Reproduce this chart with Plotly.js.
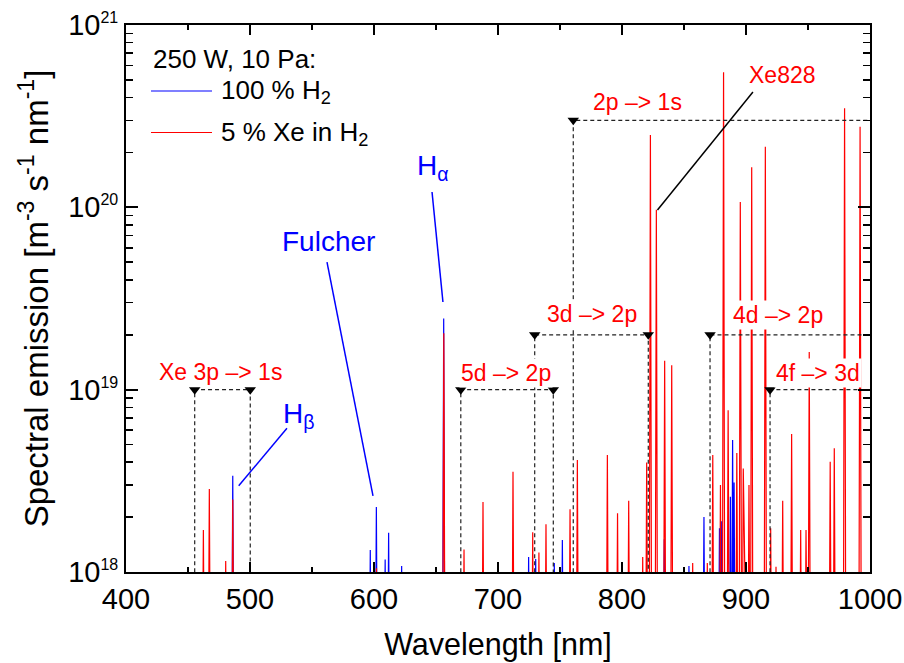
<!DOCTYPE html>
<html><head><meta charset="utf-8">
<script src="https://cdn.plot.ly/plotly-3.0.1.min.js"></script>
<style>html,body{margin:0;padding:0;background:#fff}#chart{width:904px;height:663px}</style>
</head><body><div id="chart"></div>
<script>
// ---- data (peak wavelength [nm], peak emission [m^-3 s^-1 nm^-1]) ----
const h2Wavelength = [486.1, 597.0, 601.9, 609.0, 611.8, 622.3, 656.2, 724.7, 730.4, 745.4, 751.9,
  834.1, 854.0, 866.1, 878.6, 880.4, 887.4, 889.2, 890.4];
const h2Peak = [3.37e18, 1.32e18, 2.27e18, 1.17e18, 1.64e18, 1.08e18, 2.46e19, 1.21e18, 1.18e18, 1.12e18, 1.5e18,
  1.51e18, 1.08e18, 2.0e18, 1.74e18, 1.9e18, 2.59e18, 5.3e18, 3.1e18];

const xeWavelength = [462.4, 467.2, 480.4, 486.1, 602.0, 656.3, 672.6, 687.9, 712.1, 728.0, 733.0, 738.7,
  758.1, 764.0, 788.2, 796.4, 805.4, 816.7, 819.9, 822.9, 827.7, 834.4, 840.1, 857.0, 868.8, 873.2,
  879.4, 881.9, 885.6, 892.6, 895.4, 897.8, 902.4, 904.6, 915.6, 919.9, 924.2, 929.6, 936.8, 944.1,
  948.4, 951.0, 967.9, 971.2, 979.5, 992.0];
const xePeak = [1.7e18, 2.85e18, 1.15e18, 2.5e18, 1.05e18, 2.04e19, 1.33e18, 2.42e18, 3.55e18, 1.65e18, 1.28e18, 1.83e18,
  2.21e18, 4.11e18, 4.38e18, 2.1e18, 2.46e18, 1.21e18, 3.98e18, 2.49e20, 9.7e19, 1.44e19, 1.36e19, 1.12e18, 1.12e18, 4.38e18,
  3.0e18, 5.5e20, 7.7e18, 4.5e18, 1.07e20, 3.7e18, 3.0e18, 1.66e20, 2.15e20, 1.74e18, 1.07e18, 2.46e18, 5.71e18, 1.7e18,
  1.7e18, 1.61e19, 4.03e18, 4.77e18, 3.49e20, 2.77e20];

// transition groups (dashed brackets)
const groupLabels = ['Xe 3p –> 1s', '5d –> 2p', '3d –> 2p', '2p –> 1s', '4d –> 2p', '4f –> 3d'];
const groupStart = [455.4, 670.0, 729.6, 760.7, 871.0, 919.4];
const groupEnd   = [500.2, 744.6, 821.2, 1000, 1000, 1000];
const groupClosed = [true, true, true, false, false, false];
const groupLevel = [1e19, 1e19, 2e19, 3e20, 2e19, 1e19];

const seriesNames = ['100 % H<sub>2</sub>', '5 % Xe in H<sub>2</sub>'];
const seriesColors = ['#0000ff', '#ff0000'];
const legendTitle = '250 W, 10 Pa:';

// ---- build traces ----
const FLOOR = 1e17, HALF = 1.1;
function spikes(wl, pk) {
  const idx = wl.map((w, i) => i).sort((a, b) => wl[a] - wl[b]);
  const x = [], y = [];
  idx.forEach(i => { x.push(wl[i] - HALF, wl[i], wl[i] + HALF); y.push(FLOOR, pk[i], FLOOR); });
  return {x, y};
}
const s1 = spikes(h2Wavelength, h2Peak);
const s2 = spikes(xeWavelength, xePeak);

const traces = [
  {x: s1.x, y: s1.y, type: 'scatter', mode: 'lines', name: seriesNames[0], showlegend: false,
   line: {color: seriesColors[0], width: 1.2}},
  {x: s2.x, y: s2.y, type: 'scatter', mode: 'lines', name: seriesNames[1], showlegend: false,
   line: {color: seriesColors[1], width: 1.2}}
];

const bx = [], by = [], mx = [], my = [];
groupStart.forEach((s, i) => {
  const lv = groupLevel[i];
  bx.push(s, s, groupEnd[i]); by.push(FLOOR, lv, lv);
  mx.push(s); my.push(lv);
  if (groupClosed[i]) { bx.push(groupEnd[i]); by.push(FLOOR); mx.push(groupEnd[i]); my.push(lv); }
  bx.push(null); by.push(null);
});
traces.push({x: bx, y: by, type: 'scatter', mode: 'lines', showlegend: false, hoverinfo: 'skip',
  line: {color: '#222', width: 1.2, dash: '4px,3px'}});
traces.push({x: mx, y: my, type: 'scatter', mode: 'markers', showlegend: false, hoverinfo: 'skip',
  marker: {symbol: 'triangle-down', size: 10, color: 'black'}, cliponaxis: false});

// ---- annotations ----
const FONT = 'Liberation Sans, Arial, Helvetica, sans-serif';
const groupLabelPos = [[476.6, 19.098], [706.5, 19.094], [775.8, 19.415], [812.1, 20.578], [925.8, 19.409], [958.3, 19.094]];
const annotations = groupLabels.map((t, i) => ({
  text: t, x: groupLabelPos[i][0], y: groupLabelPos[i][1], xref: 'x', yref: 'y',
  showarrow: false, bgcolor: 'white', borderpad: 1,
  font: {family: FONT, size: 23, color: '#ff0000'}
}));
annotations.push(
  {text: 'Fulcher', x: 563.7, y: 19.815, xref: 'x', yref: 'y', showarrow: false, font: {family: FONT, size: 28, color: '#0000ff'}},
  {text: 'H<sub>α</sub>', x: 647.5, y: 20.216, xref: 'x', yref: 'y', showarrow: false, font: {family: FONT, size: 28, color: '#0000ff'}},
  {text: 'H<sub>β</sub>', x: 539.5, y: 18.861, xref: 'x', yref: 'y', showarrow: false, font: {family: FONT, size: 28, color: '#0000ff'}},
  {text: 'Xe828', x: 929.8, y: 20.726, xref: 'x', yref: 'y', showarrow: false, font: {family: FONT, size: 23, color: '#ff0000'}}
);
// hand-drawn legend (paper coordinates)
const PW = 744, PH = 547;
const px = v => (v - 126) / PW, py = v => 1 - (v - 25) / PH;
annotations.push(
  {text: legendTitle, x: px(151), y: py(59), xref: 'paper', yref: 'paper', xanchor: 'left', yanchor: 'middle', showarrow: false, font: {family: FONT, size: 26}},
  {text: seriesNames[0], x: px(219), y: py(91.5), xref: 'paper', yref: 'paper', xanchor: 'left', yanchor: 'middle', showarrow: false, font: {family: FONT, size: 26}},
  {text: seriesNames[1], x: px(219), y: py(133.5), xref: 'paper', yref: 'paper', xanchor: 'left', yanchor: 'middle', showarrow: false, font: {family: FONT, size: 26}}
);
const L = Math.pow.bind(null, 10);
const shapes = [
  {type: 'line', xref: 'paper', yref: 'paper', x0: px(151), x1: px(212), y0: py(91), y1: py(91), line: {color: seriesColors[0], width: 1.2}},
  {type: 'line', xref: 'paper', yref: 'paper', x0: px(151), x1: px(212), y0: py(132.5), y1: py(132.5), line: {color: seriesColors[1], width: 1.2}},
  {type: 'line', xref: 'x', yref: 'y', x0: 562.1, y0: L(19.700), x1: 599.2, y1: L(18.417), line: {color: '#0000ff', width: 1.5}},
  {type: 'line', xref: 'x', yref: 'y', x0: 646.8, y0: L(20.084), x1: 655.6, y1: L(19.481), line: {color: '#0000ff', width: 1.5}},
  {type: 'line', xref: 'x', yref: 'y', x0: 490.9, y0: L(18.473), x1: 529.8, y1: L(18.788), line: {color: '#0000ff', width: 1.5}},
  {type: 'line', xref: 'x', yref: 'y', x0: 828.6, y0: L(19.985), x1: 905.6, y1: L(20.633), line: {color: 'black', width: 1.5}}
];

const sup = n => '10<sup><span style="font-size:16px">' + n + '</span></sup>';
const layout = {
  width: 904, height: 663,
  margin: {l: 126, r: 34, t: 25, b: 91},
  paper_bgcolor: 'white', plot_bgcolor: 'white',
  font: {family: FONT, color: 'black'},
  showlegend: false,
  xaxis: {range: [400, 1000], tick0: 0, dtick: 100, ticks: 'inside', ticklen: 10, tickwidth: 2, tickcolor: 'black',
    showline: true, linewidth: 2, linecolor: 'black', mirror: 'allticks', showgrid: false, zeroline: false,
    minor: {dtick: 50, ticks: 'inside', ticklen: 5, tickwidth: 1.5, tickcolor: 'black', showgrid: false},
    tickfont: {family: FONT, size: 29},
    title: {text: 'Wavelength [nm]', font: {family: FONT, size: 30.5}, standoff: 20}},
  yaxis: {type: 'log', range: [18, 21], tickmode: 'array', tickvals: [1e18, 1e19, 1e20, 1e21],
    ticktext: [sup(18), sup(19), sup(20), sup(21)],
    ticks: 'inside', ticklen: 12, tickwidth: 2, tickcolor: 'black',
    showline: true, linewidth: 2, linecolor: 'black', mirror: 'allticks', showgrid: false, zeroline: false,
    minor: {dtick: 'D1', ticks: 'inside', ticklen: 7, tickwidth: 1.5, tickcolor: 'black', showgrid: false},
    tickfont: {family: FONT, size: 29},
    title: {text: 'Spectral emission [m<sup>-3</sup> s<sup>-1</sup> nm<sup>-1</sup>]', font: {family: FONT, size: 33}, standoff: 10}},
  annotations, shapes
};
Plotly.newPlot('chart', traces, layout, {staticPlot: true, displayModeBar: false});
</script></body></html>
